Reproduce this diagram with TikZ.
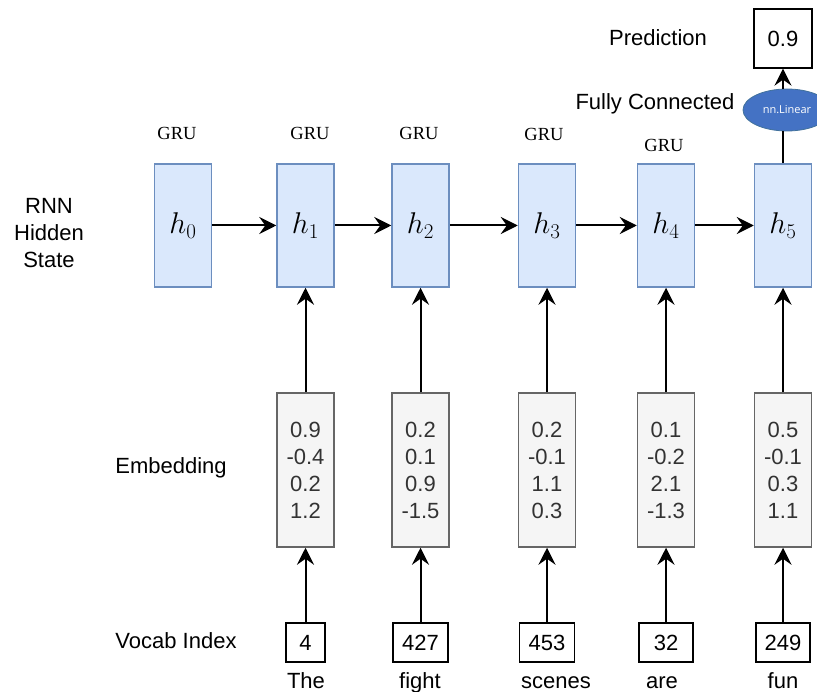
\RequirePackage{fix-cm}
\documentclass[tikz,border=0pt]{standalone}
\usepackage{fontspec}
\setmainfont{Liberation Sans}
\newfontfamily\grufont{Liberation Serif}
\newfontfamily\smallsans{Open Sans}
\usetikzlibrary{arrows.meta,shapes.geometric}
\definecolor{hidfill}{HTML}{DAE8FC}
\definecolor{hiddraw}{HTML}{6C8EBF}
\definecolor{embfill}{HTML}{F5F5F5}
\definecolor{embdraw}{HTML}{666666}
\definecolor{embtext}{HTML}{333333}
\definecolor{fcfill}{HTML}{4472C4}
\definecolor{fcdraw}{HTML}{41719C}

\begin{document}
\begin{tikzpicture}[x=1pt,y=-1pt,
  hidden/.style={draw=hiddraw,fill=hidfill,line width=1.5pt,minimum width=57pt,
    minimum height=123pt,inner sep=0pt,font=\fontsize{30}{34}\selectfont},
  emb/.style={draw=embdraw,fill=embfill,line width=1.5pt,minimum width=57pt,
    minimum height=154pt,inner sep=0pt,align=center,text=embtext,
    font=\fontsize{22}{27}\selectfont},
  vocab/.style={draw,line width=1.3pt,minimum height=39pt,inner sep=0pt,
    font=\fontsize{22}{26}\selectfont},
  word/.style={anchor=base,inner sep=0pt,font=\fontsize{22}{26}\selectfont},
  lbl/.style={font=\fontsize{22}{27}\selectfont,align=center,inner sep=0pt},
  gru/.style={font=\grufont\fontsize{18.5}{22}\selectfont,inner sep=0pt},
  conn/.style={line width=2pt,-{Stealth[length=17pt,width=17pt,inset=6pt]}},
  link/.style={line width=2pt}
]
\useasboundingbox (0,0) rectangle (817,692);

% row labels
\node[lbl] (lrnn) at (49,233) {RNN\\Hidden\\State};
\node[lbl] (lemb) at (171,468) {Embedding};
\node[lbl] (lvoc) at (176,641) {Vocab Index};
\node[lbl] (lpred) at (658,38) {Prediction};
\node[lbl] (lfc) at (655,104) {Fully Connected};

% GRU cell captions
\node[gru] (g0) at (177,133) {GRU};
\node[gru] (g1) at (310,133) {GRU};
\node[gru] (g2) at (419,133) {GRU};
\node[gru] (g3) at (544,134) {GRU};
\node[gru] (g4) at (664,145) {GRU};

% hidden states
\node[hidden] (h0) at (183,225.5) {$h_0$};
\node[hidden] (h1) at (305.5,225.5) {$h_1$};
\node[hidden] (h2) at (420.5,225.5) {$h_2$};
\node[hidden] (h3) at (547,225.5) {$h_3$};
\node[hidden] (h4) at (666,225.5) {$h_4$};
\node[hidden] (h5) at (783,225.5) {$h_5$};

% embeddings
\node[emb] (e1) at (305.5,470) {0.9\\-0.4\\0.2\\1.2};
\node[emb] (e2) at (420.5,470) {0.2\\0.1\\0.9\\-1.5};
\node[emb] (e3) at (547,470) {0.2\\-0.1\\1.1\\0.3};
\node[emb] (e4) at (666,470) {0.1\\-0.2\\2.1\\-1.3};
\node[emb] (e5) at (783,470) {0.5\\-0.1\\0.3\\1.1};

% vocabulary indices
\node[vocab,minimum width=39pt] (v1) at (305.5,642.5) {4};
\node[vocab,minimum width=55pt] (v2) at (420.5,642.5) {427};
\node[vocab,minimum width=55pt] (v3) at (547,642.5) {453};
\node[vocab,minimum width=54pt] (v4) at (666,642.5) {32};
\node[vocab,minimum width=54pt] (v5) at (783,642.5) {249};

% words
\node[word] (w1) at (306,688) {The};
\node[word] (w2) at (420,688) {fight};
\node[word] (w3) at (556,688) {scenes};
\node[word] (w4) at (662,688) {are};
\node[word] (w5) at (783,688) {fun};

% output head
\node[ellipse,draw=fcdraw,fill=fcfill,line width=0.8pt,minimum width=88pt,
  minimum height=42pt,inner sep=0pt,text=white,font=\smallsans\fontsize{11}{12}\selectfont]
  (fc) at (787,110) {nn.Linear};
\coordinate (fcbot) at (783,131);
\coordinate (fctop) at (783,89);
\node[vocab,minimum width=58pt,minimum height=59pt] (pred) at (783,38.5) {0.9};

% recurrent connections
\draw[conn] (h0) -- (h1);
\draw[conn] (h1) -- (h2);
\draw[conn] (h2) -- (h3);
\draw[conn] (h3) -- (h4);
\draw[conn] (h4) -- (h5);

% inputs
\foreach \i in {1,...,5}{
  \draw[conn] (e\i) -- (h\i);
  \draw[conn] (v\i) -- (e\i);
}

% prediction
\draw[link] (h5.north) -- (fcbot);
\draw[conn] (fctop) -- (pred.south);
\end{tikzpicture}
\end{document}
